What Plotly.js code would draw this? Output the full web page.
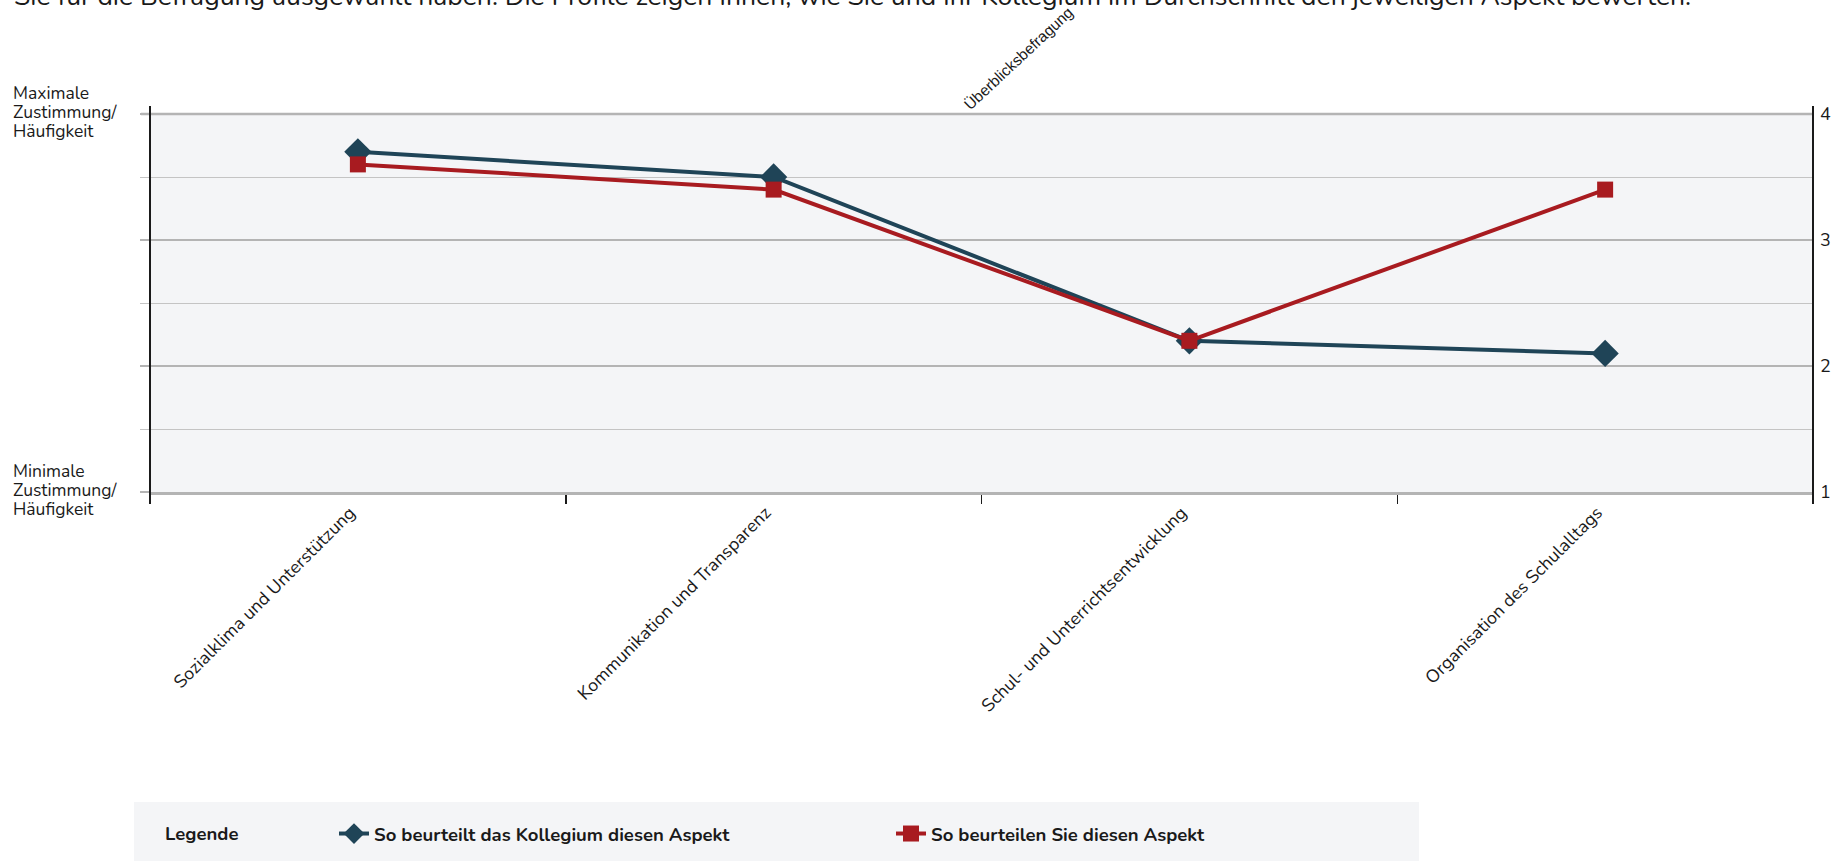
<!DOCTYPE html>
<html>
<head>
<meta charset="utf-8">
<script src="https://cdn.plot.ly/plotly-3.0.1.min.js"></script>
<style>html,body{margin:0;padding:0;background:#fff;}#chart{width:1832px;height:861px;}</style>
</head>
<body>
<div id="chart"></div>
<script>
const categories = [
  "Sozialklima und Unterstützung",
  "Kommunikation und Transparenz",
  "Schul- und Unterrichtsentwicklung",
  "Organisation des Schulalltags"
];
const kollegiumValues = [3.7, 3.5, 2.2, 2.1];
const sieValues = [3.6, 3.4, 2.2, 3.4];
const yTickValues = [1, 2, 3, 4];
const yTickLabels = ["1", "2", "3", "4"];
const seriesNames = ["So beurteilt das Kollegium diesen Aspekt", "So beurteilen Sie diesen Aspekt"];
const introText = "Sie für die Befragung ausgewählt haben. Die Profile zeigen Ihnen, wie Sie und Ihr Kollegium im Durchschnitt den jeweiligen Aspekt bewerten.";
const chartTitle = "Überblicksbefragung";
const maxLabelLines = ["Maximale", "Zustimmung/", "Häufigkeit"];
const minLabelLines = ["Minimale", "Zustimmung/", "Häufigkeit"];
const legendTitle = "Legende";

const W = 1832, H = 861;
const L = 150, R = 19, T = 114, B = 369;
const pw = W - L - R, ph = H - T - B;
const px = x => (x - L) / pw;
const py = y => (H - B - y) / ph;

const FONT = "Nunito, 'Open Sans', sans-serif";
const TXT = "#1a1a1a";
const BLUE = "#1f4457", RED = "#a81b20";

const traces = [
  {
    x: categories, y: kollegiumValues, name: seriesNames[0], type: "scatter", mode: "lines+markers",
    line: {color: BLUE, width: 4}, marker: {symbol: "diamond", size: 21, color: BLUE},
    xaxis: "x", yaxis: "y", hoverinfo: "skip"
  },
  {
    x: categories, y: sieValues, name: seriesNames[1], type: "scatter", mode: "lines+markers",
    line: {color: RED, width: 4}, marker: {symbol: "square", size: 16, color: RED},
    xaxis: "x", yaxis: "y2", hoverinfo: "skip"
  }
];

const annotations = [
  {text: introText, xref: "paper", yref: "paper", x: px(12), y: py(16), xanchor: "left", yanchor: "bottom",
   showarrow: false, font: {family: FONT, size: 26.5, color: TXT}},
  {text: chartTitle, xref: "paper", yref: "paper", x: px(1018), y: py(58), xanchor: "center", yanchor: "middle",
   textangle: -43, showarrow: false, font: {family: "'Liberation Sans Narrow', 'Liberation Sans', sans-serif", size: 15.5, color: TXT}},
  {text: "<b>" + legendTitle + "</b>", xref: "paper", yref: "paper", x: px(163), y: py(834), xanchor: "left", yanchor: "middle",
   showarrow: false, font: {family: FONT, size: 18.5, color: TXT}}
];
const maxYs = [93, 112, 131], minYs = [471, 490, 509];
maxLabelLines.forEach((t, i) => annotations.push({text: t, xref: "paper", yref: "paper", x: px(12), y: py(maxYs[i]),
  xanchor: "left", yanchor: "middle", showarrow: false, borderpad: 0, font: {family: FONT, size: 17.5, color: TXT}}));
minLabelLines.forEach((t, i) => annotations.push({text: t, xref: "paper", yref: "paper", x: px(12), y: py(minYs[i]),
  xanchor: "left", yanchor: "middle", showarrow: false, borderpad: 0, font: {family: FONT, size: 17.5, color: TXT}}));

const layout = {
  width: W, height: H,
  margin: {l: L, r: R, t: T, b: B, pad: 0},
  paper_bgcolor: "#ffffff",
  plot_bgcolor: "#f4f5f7",
  font: {family: FONT, size: 16, color: TXT},
  showlegend: true,
  xaxis: {
    type: "category", range: [-0.5, 3.5], automargin: false, fixedrange: true,
    tickson: "boundaries", ticks: "outside", ticklen: 9, tickwidth: 1.5, tickcolor: TXT,
    tickangle: -45, ticklabelshift: -8, tickfont: {family: FONT, size: 18, color: TXT},
    showgrid: false, zeroline: false, showline: true, linecolor: "#b4b4b4", linewidth: 3
  },
  yaxis: {
    range: [1, 4], tick0: 1, dtick: 1, automargin: false, fixedrange: true,
    showticklabels: false, ticks: "outside", ticklen: 9, tickwidth: 2, tickcolor: "#b4b4b4",
    showgrid: true, gridcolor: "#b4b4b4", gridwidth: 2, zeroline: false, showline: false,
    minor: {tick0: 1, dtick: 0.5, showgrid: true, gridcolor: "#c4c4c4", gridwidth: 1,
            ticks: "outside", ticklen: 9, tickwidth: 1, tickcolor: "#c4c4c4"}
  },
  yaxis2: {
    overlaying: "y", side: "right", range: [1, 4], automargin: false, fixedrange: true,
    tickmode: "array", tickvals: yTickValues, ticktext: yTickLabels,
    ticks: "", ticklabelstandoff: 6, showgrid: false, zeroline: false, showline: false,
    tickfont: {family: FONT, size: 18, color: TXT}
  },
  legend: {
    orientation: "h", xref: "container", yref: "container",
    x: 334 / W, xanchor: "left", y: 1 - 834 / H, yanchor: "middle",
    bgcolor: "rgba(0,0,0,0)", borderwidth: 0,
    font: {family: FONT, size: 18.5, color: TXT, weight: 700},
    entrywidth: 512, entrywidthmode: "pixels", itemclick: false, itemdoubleclick: false,
    traceorder: "normal"
  },
  shapes: [
    {type: "rect", xref: "paper", yref: "paper", x0: px(134), x1: px(1419), y0: py(802), y1: py(880),
     fillcolor: "#f4f5f7", line: {width: 0}, layer: "below"},
    {type: "line", xref: "paper", yref: "paper", x0: px(141), x1: 1, y0: 1, y1: 1,
     line: {color: "#b4b4b4", width: 2.5}, layer: "below"},
    {type: "line", xref: "paper", yref: "paper", x0: 0, x1: 0, y0: py(106), y1: py(500),
     line: {color: TXT, width: 2}, layer: "above"},
    {type: "line", xref: "paper", yref: "paper", x0: 1, x1: 1, y0: py(106), y1: py(500),
     line: {color: TXT, width: 2}, layer: "above"}
  ],
  annotations: annotations
};

Plotly.newPlot("chart", traces, layout, {displayModeBar: false, staticPlot: true});
</script>
</body>
</html>
